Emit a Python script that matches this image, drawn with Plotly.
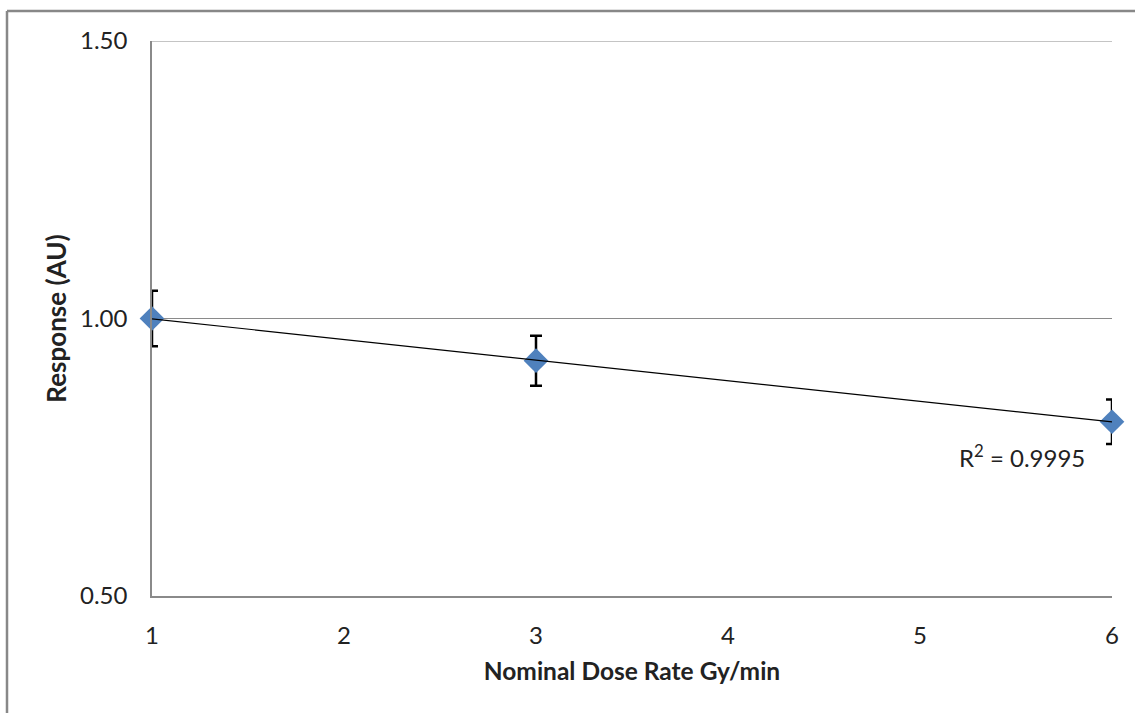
import numpy as np
import plotly.graph_objects as go

dose_rate = [1, 3, 6]
response = [1.00, 0.924, 0.814]
error = [0.05, 0.045, 0.04]
r2_label = "R<sup>2</sup> = 0.9995"
x_ticks = [1, 2, 3, 4, 5, 6]
y_ticks = [0.50, 1.00, 1.50]

slope, intercept = np.polyfit(dose_rate, response, 1)
trend_x = [min(dose_rate), max(dose_rate)]
trend_y = [slope * v + intercept for v in trend_x]

FONT = "Lato"
fig = go.Figure()
fig.add_trace(go.Scatter(
    x=dose_rate, y=response, mode="markers", cliponaxis=False,
    marker=dict(symbol="diamond", size=19, color="#4F81BD"),
    error_y=dict(type="data", array=error, visible=True, color="black", thickness=2.5, width=6),
    showlegend=False,
))
fig.add_trace(go.Scatter(
    x=trend_x, y=trend_y, mode="lines", cliponaxis=False,
    line=dict(color="black", width=1.2), showlegend=False,
))
fig.add_annotation(x=5.53, y=0.752, xref="x", yref="y", text=r2_label, showarrow=False,
                   font=dict(family=FONT, size=24, color="#222"))

fig.update_layout(
    width=1135, height=713,
    margin=dict(l=152, r=23, t=41, b=117),
    paper_bgcolor="white", plot_bgcolor="white",
    font=dict(family=FONT, color="#222"),
    xaxis=dict(range=[1, 6], tickvals=x_ticks, ticktext=[str(v) for v in x_ticks],
               showgrid=False, zeroline=False, showline=True, linecolor="#8a8a8a", linewidth=1.5,
               ticks="", ticklabelstandoff=17, tickfont=dict(size=24),
               title=dict(text="<b>Nominal Dose Rate Gy/min</b>", font=dict(size=24.5), standoff=15)),
    yaxis=dict(range=[0.5, 1.5], tickvals=y_ticks, ticktext=[f"{v:.2f}" for v in y_ticks],
               showgrid=True, gridcolor="#8a8a8a", gridwidth=1.2, zeroline=False,
               showline=True, linecolor="#8a8a8a", linewidth=1.5,
               ticks="", ticklabelstandoff=18, tickfont=dict(size=24),
               title=dict(text="<b>Response (AU)</b>", font=dict(size=26), standoff=6)),
    shapes=[
        dict(type="line", xref="paper", yref="y", x0=0, x1=1, y0=y_ticks[-1], y1=y_ticks[-1],
             line=dict(color="#8a8a8a", width=1.2)),
        dict(type="line", xref="paper", yref="paper", x0=(7 - 152) / 960, x1=(7 - 152) / 960,
             y0=(596 - 11) / 555, y1=-0.3, line=dict(color="#888", width=2.5)),
        dict(type="line", xref="paper", yref="paper", x0=(7 - 152) / 960, x1=1.1,
             y0=(596 - 11) / 555, y1=(596 - 11) / 555, line=dict(color="#888", width=2.5)),
    ],
)
fig.write_html("out.html")
